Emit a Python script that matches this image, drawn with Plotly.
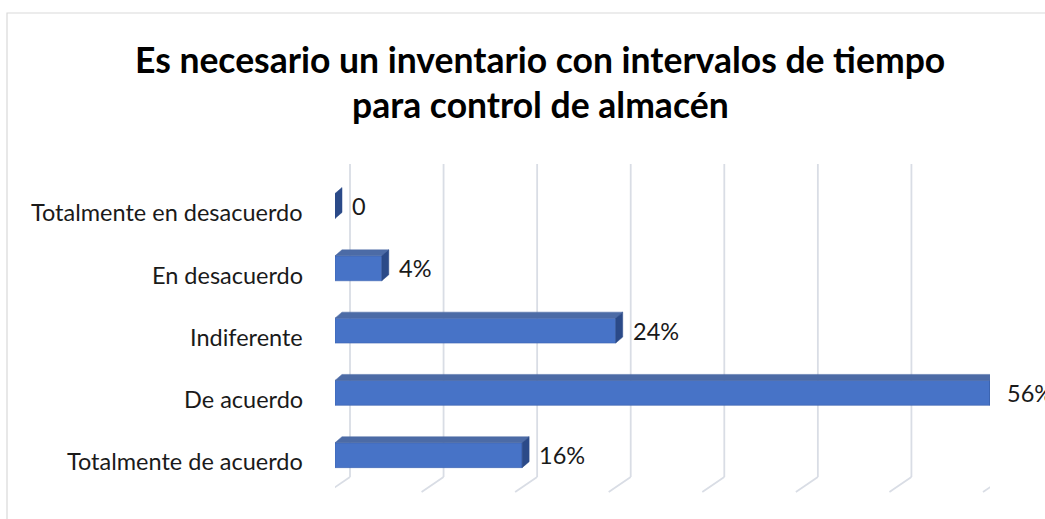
import plotly.graph_objects as go

categories = ["Totalmente en desacuerdo", "En desacuerdo", "Indiferente", "De acuerdo", "Totalmente de acuerdo"]
values = [0, 4, 24, 56, 16]
value_labels = ["0", "4%", "24%", "56%", "16%"]
grid_ticks = [0, 8, 16, 24, 32, 40, 48, 56]
title_lines = ["Es necesario un inventario con intervalos de tiempo", "para control de almacén"]

W, H = 1045, 519
L = 335
T = 164
PLOT_RIGHT = 990
PLOT_BOTTOM = 492
R, B = W - PLOT_RIGHT, H - PLOT_BOTTOM
PW, PH = PLOT_RIGHT - L, PLOT_BOTTOM - T
XMAX = 56
YTOP, YBOT = -0.674, 4.591
PX_X = PW / XMAX
PX_Y = PH / (YBOT - YTOP)

BAR_W = 0.40
DX = 7 / PX_X       # depth offset, data units
DY = 6 / PX_Y
GRID = "#D9DDE5"
FONT = "Lato"

fig = go.Figure()
ypos = list(range(len(categories)))
fig.add_trace(go.Bar(
    x=values, y=ypos, orientation="h", width=BAR_W,
    marker=dict(color="#4773C7", line=dict(color="#3A62AE", width=0.6)),
    hoverinfo="skip",
))

shapes = []
# border of chart area
shapes.append(dict(type="rect", xref="paper", yref="paper",
                   x0=(7 - L) / PW, x1=(W + 10 - L) / PW,
                   y0=(PLOT_BOTTOM - (H + 10)) / PH, y1=(PLOT_BOTTOM - 13) / PH,
                   line=dict(color="#D9D9D9", width=1.2), layer="below"))
# gridlines (back wall + floor diagonals)
for t in grid_ticks:
    shapes.append(dict(type="line", xref="x", yref="paper", xsizemode="pixel", xanchor=t,
                       x0=15, x1=15, y0=15 / PH, y1=1, line=dict(color=GRID, width=1.8), layer="below"))
    shapes.append(dict(type="line", xref="x", yref="paper", xsizemode="pixel", xanchor=t,
                       x0=15, x1=-7, y0=15 / PH, y1=0, line=dict(color=GRID, width=1.8), layer="below"))
shapes.append(dict(type="line", xref="x", yref="paper", xsizemode="pixel", xanchor=grid_ticks[0],
                   x0=-7, x1=-7, y0=0, y1=(PH - 16) / PH, line=dict(color=GRID, width=1.8), layer="below"))

# 3D top and side faces derived from values
for i, v in enumerate(values):
    yt = i - BAR_W / 2
    yb = i + BAR_W / 2
    if v > 0:
        shapes.append(dict(type="path", xref="x", yref="y",
                           path=f"M 0,{yt} L {v},{yt} L {v+DX},{yt-DY} L {DX},{yt-DY} Z",
                           fillcolor="#4C6BA6", line=dict(color="#4C6BA6", width=0.5), layer="above"))
    shapes.append(dict(type="path", xref="x", yref="y",
                       path=f"M {v},{yt} L {v+DX},{yt-DY} L {v+DX},{yb-DY} L {v},{yb} Z",
                       fillcolor="#2B4A88", line=dict(color="#2B4A88", width=0.5), layer="above"))

annotations = []
for i, (c, lab, v) in enumerate(zip(categories, value_labels, values)):
    annotations.append(dict(xref="paper", yref="y", x=0, y=i + 0.1, text=c, showarrow=False,
                            xanchor="right", yanchor="middle", xshift=-30,
                            font=dict(family=FONT, size=23.5, color="#1a1a1a")))
    annotations.append(dict(xref="x", yref="y", x=v, y=i, text=lab, showarrow=False,
                            xanchor="left", yanchor="middle", xshift=15,
                            font=dict(family=FONT, size=23.5, color="#1a1a1a")))
for k, line in enumerate(title_lines):
    annotations.append(dict(xref="paper", yref="paper", x=(540 - L) / PW,
                            y=(PLOT_BOTTOM - (60 + 45 * k)) / PH,
                            text=f"<b>{line}</b>", showarrow=False, xanchor="center", yanchor="middle",
                            font=dict(family=FONT, size=35.5, color="#000000")))

fig.update_layout(
    width=W, height=H, margin=dict(l=L, r=R, t=T, b=B),
    paper_bgcolor="white", plot_bgcolor="white", showlegend=False,
    xaxis=dict(range=[0, XMAX], showgrid=False, zeroline=False, showticklabels=False, ticks="", fixedrange=True),
    yaxis=dict(range=[YBOT, YTOP], showgrid=False, zeroline=False, showticklabels=False, ticks="", fixedrange=True),
    shapes=shapes, annotations=annotations,
)
fig.write_html("out.html", config={"displayModeBar": False},
               post_script="document.body.style.margin='0';document.body.style.overflow='hidden';")
